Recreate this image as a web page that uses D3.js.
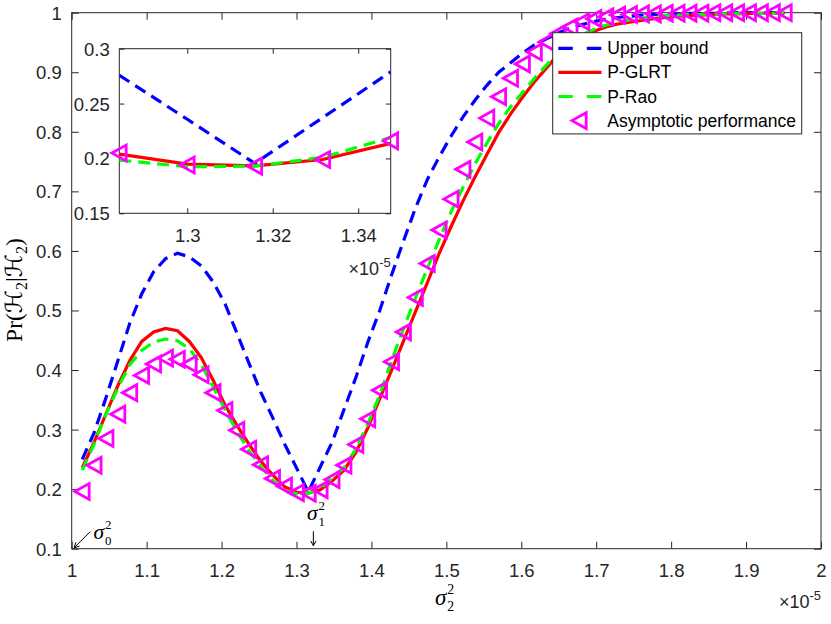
<!DOCTYPE html>
<html>
<head>
<meta charset="utf-8">
<script src="https://cdn.jsdelivr.net/npm/d3@7"></script>
<style>
  body { margin: 0; background: #fff; }
</style>
</head>
<body>
<div id="chart"></div>
<script>
// sigma_2^2 grid (x 1e-5)
const sigma2 = [
  1.0141, 1.0300, 1.0459, 1.0617, 1.0776, 1.0935, 1.1094, 1.1253, 1.1411, 1.1570,
  1.1729, 1.1888, 1.2047, 1.2205, 1.2364, 1.2523, 1.2682, 1.2841, 1.3000, 1.3158,
  1.3317, 1.3476, 1.3635, 1.3794, 1.3953, 1.4111, 1.4270, 1.4429, 1.4588, 1.4747,
  1.4905, 1.5064, 1.5223, 1.5382, 1.5541, 1.5699, 1.5858, 1.6017, 1.6176, 1.6335,
  1.6493, 1.6652, 1.6811, 1.6970, 1.7129, 1.7287, 1.7446, 1.7605, 1.7764, 1.7923,
  1.8081, 1.8240, 1.8399, 1.8558, 1.8717, 1.8875, 1.9034, 1.9193, 1.9352, 1.9511
];
const upperBound = [
  0.250, 0.295, 0.354, 0.416, 0.479, 0.528, 0.565, 0.587, 0.596, 0.590,
  0.575, 0.548, 0.511, 0.462, 0.412, 0.363, 0.320, 0.2758, 0.2357, 0.1955,
  0.2372, 0.2789, 0.334, 0.388, 0.447, 0.500, 0.560, 0.617, 0.672, 0.720,
  0.758, 0.793, 0.825, 0.853, 0.878, 0.900, 0.916, 0.932, 0.946, 0.956,
  0.966, 0.974, 0.980, 0.985, 0.989, 0.992, 0.994, 0.996, 0.997, 0.998,
  0.998, 0.999, 0.999, 0.999, 0.999, 1.000, 1.000, 1.000, 1.000, 1.000
];
const pGLRT = [
  0.236, 0.279, 0.327, 0.374, 0.416, 0.448, 0.464, 0.470, 0.466, 0.448,
  0.421, 0.383, 0.341, 0.307, 0.276, 0.247, 0.224, 0.204, 0.1948, 0.1933,
  0.199, 0.2137, 0.232, 0.262, 0.303, 0.352, 0.400, 0.449, 0.498, 0.547,
  0.596, 0.641, 0.684, 0.724, 0.762, 0.799, 0.830, 0.858, 0.884, 0.907,
  0.930, 0.948, 0.961, 0.969, 0.976, 0.981, 0.984, 0.987, 0.990, 0.992,
  0.994, 0.995, 0.996, 0.997, 0.998, 0.998, 0.999, 0.999, 0.999, 0.999
];
const pRao = [
  0.232, 0.276, 0.326, 0.370, 0.409, 0.433, 0.447, 0.452, 0.449, 0.436,
  0.409, 0.372, 0.333, 0.297, 0.265, 0.238, 0.215, 0.1985, 0.1924, 0.1930,
  0.2010, 0.2191, 0.236, 0.268, 0.310, 0.358, 0.416, 0.470, 0.521, 0.571,
  0.619, 0.666, 0.707, 0.746, 0.781, 0.814, 0.842, 0.866, 0.890, 0.912,
  0.932, 0.950, 0.963, 0.972, 0.979, 0.984, 0.988, 0.991, 0.993, 0.995,
  0.996, 0.997, 0.997, 0.998, 0.998, 0.999, 0.999, 0.999, 0.999, 1.000
];
const asymptotic = [
  0.196, 0.240, 0.285, 0.326, 0.362, 0.391, 0.410, 0.420, 0.418, 0.410,
  0.392, 0.362, 0.332, 0.299, 0.267, 0.241, 0.218, 0.205, 0.194, 0.193,
  0.199, 0.216, 0.240, 0.275, 0.318, 0.366, 0.414, 0.464, 0.522, 0.579,
  0.635, 0.687, 0.737, 0.783, 0.823, 0.859, 0.890, 0.914, 0.934, 0.951,
  0.965, 0.976, 0.985, 0.990, 0.993, 0.996, 0.997, 0.998, 0.998, 0.999,
  0.999, 0.999, 0.999, 1.000, 1.000, 1.000, 1.000, 1.000, 1.000, 1.000
];
const xTicks = [1, 1.1, 1.2, 1.3, 1.4, 1.5, 1.6, 1.7, 1.8, 1.9, 2];
const yTicks = [0.1, 0.2, 0.3, 0.4, 0.5, 0.6, 0.7, 0.8, 0.9, 1];
const insetXTicks = [1.3, 1.32, 1.34];
const insetYTicks = [0.15, 0.2, 0.25, 0.3];
const insetRange = [17, 21]; // first and last grid index shown in the zoom box
const legendLabels = ["Upper bound", "P-GLRT", "P-Rao", "Asymptotic performance"];
const sigma1 = 1.3225; // annotated sigma_1^2

const W = 831, H = 624;
const AX = "#262626";
const SANS = "'Liberation Sans', Arial, Helvetica, sans-serif";
const SERIF = "'Liberation Serif', 'DejaVu Serif', 'Times New Roman', serif";

const series = [
  { vals: upperBound, color: "#0000ff", dash: "12,7" },
  { vals: pGLRT, color: "#ff0000", dash: null },
  { vals: pRao, color: "#00ff00", dash: "12,7" }
];

const svg = d3.select("#chart").append("svg")
  .attr("width", W).attr("height", H)
  .style("font-family", SANS);

// 主坐标系
const x = d3.scaleLinear().domain([1, 2]).range([71.7, 821]);
const y = d3.scaleLinear().domain([0.1, 1]).range([548.7, 12.7]);

// 小窗口坐标系
const xi = d3.scaleLinear().domain([sigma2[insetRange[0]], sigma2[insetRange[1]]]).range([119.3, 390.7]);
const yi = d3.scaleLinear().domain([0.15, 0.3]).range([213.3, 48.7]);

function tri(cx, cy, s) {
  return `M${cx - s},${cy} L${cx + s * 0.93},${cy - s * 1.07} L${cx + s * 0.93},${cy + s * 1.07} Z`;
}

// 画框和内向刻度
function frame(g, xs, ys, xt, yt, tickLen, fs, xLabY, yLabX, fill) {
  const [x0, x1] = xs.range(), [y0, y1] = ys.range();
  g.append("rect")
    .attr("x", x0).attr("y", y1).attr("width", x1 - x0).attr("height", y0 - y1)
    .attr("fill", fill).attr("stroke", "none");
  const fmt = d3.format("~g");
  const bottom = g.append("g").attr("transform", `translate(0,${y0})`)
    .call(d3.axisBottom(xs).tickValues(xt).tickSize(-tickLen).tickFormat(fmt));
  const top = g.append("g").attr("transform", `translate(0,${y1})`)
    .call(d3.axisTop(xs).tickValues(xt).tickSize(-tickLen).tickFormat(() => ""));
  const left = g.append("g").attr("transform", `translate(${x0},0)`)
    .call(d3.axisLeft(ys).tickValues(yt).tickSize(-tickLen).tickFormat(fmt));
  const right = g.append("g").attr("transform", `translate(${x1},0)`)
    .call(d3.axisRight(ys).tickValues(yt).tickSize(-tickLen).tickFormat(() => ""));
  [bottom, top, left, right].forEach(a => {
    a.attr("color", AX).select(".domain").remove();
    a.selectAll("line").attr("stroke-width", 1);
    a.selectAll("text").style("font-family", SANS).style("font-size", fs + "px").attr("fill", AX);
  });
  bottom.selectAll("text").attr("y", xLabY).attr("dy", 0);
  left.selectAll("text").attr("x", -yLabX).attr("dy", "0.35em");
  g.append("rect")
    .attr("x", x0).attr("y", y1).attr("width", x1 - x0).attr("height", y0 - y1)
    .attr("fill", "none").attr("stroke", AX).attr("stroke-width", 1);
}

function drawData(g, xs, ys, idx, clipId) {
  const line = d3.line().x(i => xs(sigma2[i]));
  const lg = g.append("g");
  if (clipId) lg.attr("clip-path", `url(#${clipId})`);
  series.forEach(s => {
    lg.append("path")
      .attr("d", line.y(i => ys(s.vals[i]))(idx))
      .attr("fill", "none")
      .attr("stroke", s.color)
      .attr("stroke-width", 3.2)
      .attr("stroke-dasharray", s.dash);
  });
  g.append("g").selectAll("path.mk")
    .data(idx)
    .enter().append("path")
    .attr("class", "mk")
    .attr("d", i => tri(xs(sigma2[i]), ys(asymptotic[i]), 7.4))
    .attr("fill", "none")
    .attr("stroke", "#ff00ff")
    .attr("stroke-width", 2.8);
}

// 主图
const main = svg.append("g");
frame(main, x, y, xTicks, yTicks, 7, 18.5, 28, 10, "#fff");
drawData(main, x, y, d3.range(sigma2.length), null);

// 图例
const lgX = 552.7, lgY = 32.7, lgW = 249, lgRow = 24.1;
const legend = svg.append("g");
legend.append("rect")
  .attr("x", lgX).attr("y", lgY).attr("width", lgW).attr("height", lgRow * 4 + 4.8)
  .attr("fill", "#fff").attr("stroke", AX).attr("stroke-width", 1);
legendLabels.forEach((lab, i) => {
  const cy = lgY + 15.6 + i * lgRow;
  if (i < 3) {
    legend.append("line")
      .attr("x1", lgX + 5.6).attr("x2", lgX + 48.8).attr("y1", cy).attr("y2", cy)
      .attr("stroke", series[i].color).attr("stroke-width", 3.2)
      .attr("stroke-dasharray", series[i].dash ? "14.5,14" : null);
  } else {
    legend.append("path").attr("d", tri(lgX + 26.6, cy, 7.4))
      .attr("fill", "none").attr("stroke", "#ff00ff").attr("stroke-width", 2.8);
  }
  legend.append("text")
    .attr("x", lgX + 54.6).attr("y", cy + 6)
    .style("font-size", "17.5px").attr("fill", "#000")
    .text(lab);
});

// 局部放大图
svg.append("defs").append("clipPath").attr("id", "insetClip")
  .append("rect")
  .attr("x", xi.range()[0]).attr("y", yi.range()[1])
  .attr("width", xi.range()[1] - xi.range()[0]).attr("height", yi.range()[0] - yi.range()[1]);
const inset = svg.append("g");
frame(inset, xi, yi, insetXTicks, insetYTicks, 5, 18.5, 29, 9.5, "#fff");
drawData(inset, xi, yi, d3.range(insetRange[0], insetRange[1] + 1), "insetClip");

// x10^-5 标注
function expLabel(xr, yb) {
  const t = svg.append("text").attr("x", xr).attr("y", yb).attr("text-anchor", "end")
    .attr("fill", AX).style("font-size", "18px");
  t.append("tspan").text("\u00d710");
  t.append("tspan").attr("dy", -8).style("font-size", "13px").text("-5");
}
expLabel(821, 608);
expLabel(390.7, 275);

// sigma 符号
function sigmaSym(x0, yb, sub, size) {
  const g = svg.append("g");
  const s = g.append("text").attr("x", x0).attr("y", yb)
    .style("font-family", SERIF).style("font-style", "italic").style("font-size", size + "px")
    .text("\u03c3");
  const w = s.node().getComputedTextLength();
  const ss = size * 0.6;
  g.append("text").attr("x", x0 + w + 0.8).attr("y", yb - size * 0.48)
    .style("font-family", SERIF).style("font-size", ss + "px").text("2");
  g.append("text").attr("x", x0 + w + 0.8).attr("y", yb + size * 0.26)
    .style("font-family", SERIF).style("font-size", ss + "px").text(sub);
}
sigmaSym(435, 605, "2", 23);
sigmaSym(93.5, 539, "0", 21.5);
sigmaSym(307, 520, "1", 21.5);

function arrow(x1, y1, x2, y2) {
  const a = Math.atan2(y2 - y1, x2 - x1), L = 5.5, sp = 0.5;
  const p = `M${x1},${y1} L${x2},${y2} M${x2 - L * Math.cos(a - sp)},${y2 - L * Math.sin(a - sp)} L${x2},${y2} L${x2 - L * Math.cos(a + sp)},${y2 - L * Math.sin(a + sp)}`;
  svg.append("path").attr("d", p).attr("fill", "none").attr("stroke", "#000").attr("stroke-width", 1);
}
arrow(x(1) + 18.5, y(0.1) - 17, x(1) + 2.5, y(0.1) - 1);
arrow(x(sigma1), y(0.1) - 17.5, x(sigma1), y(0.1) - 3);

// y 轴标题
const yl = svg.append("text")
  .attr("transform", "translate(22,290) rotate(-90)")
  .attr("text-anchor", "middle")
  .style("font-family", SERIF).style("font-size", "23.5px").attr("fill", "#000");
yl.append("tspan").text("Pr(");
yl.append("tspan").style("font-family", "'DejaVu Sans', serif").text("\u210b");
yl.append("tspan").attr("dy", 4.5).style("font-size", "16px").text("2");
yl.append("tspan").attr("dy", -4.5).text("|");
yl.append("tspan").style("font-family", "'DejaVu Sans', serif").text("\u210b");
yl.append("tspan").attr("dy", 4.5).style("font-size", "16px").text("2");
yl.append("tspan").attr("dy", -4.5).text(")");
</script>
</body>
</html>
